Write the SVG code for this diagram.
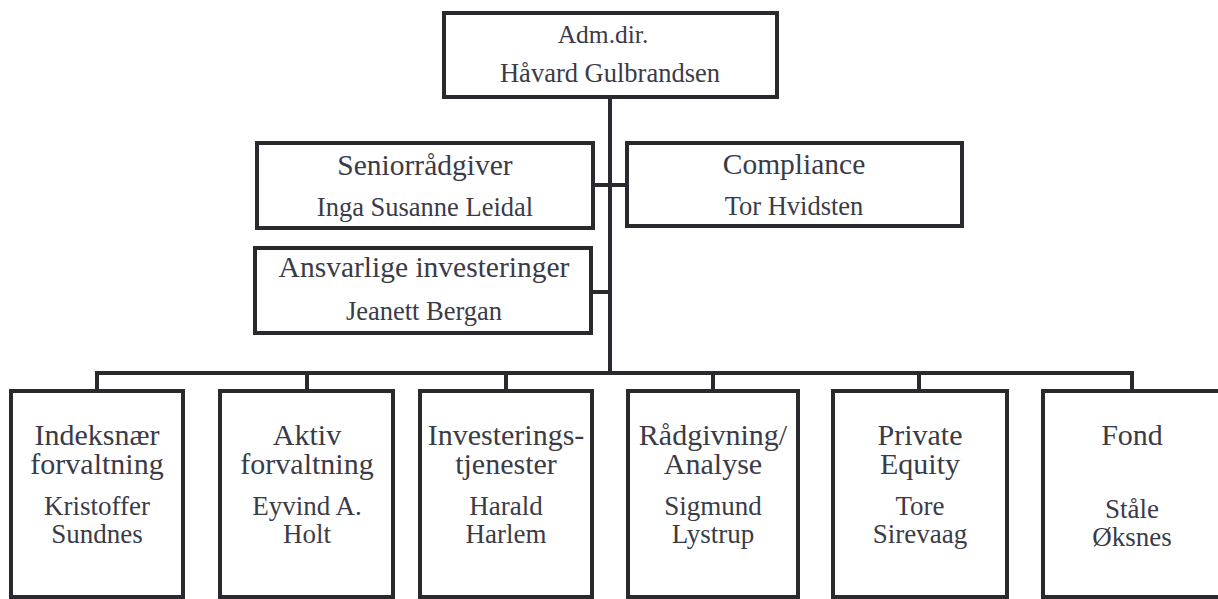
<svg xmlns="http://www.w3.org/2000/svg" width="1218" height="599" viewBox="0 0 1218 599">
<style>
.box{fill:#fff;stroke:#2a2a2e;stroke-width:4}
.ln{fill:none;stroke:#2a2a2e;stroke-width:4;stroke-linecap:square}
text{font-family:"Liberation Serif","Times New Roman",serif;fill:#3b3b48;text-anchor:middle}
.t{font-size:29.5px}
.n{font-size:26.5px}
.bt{font-size:30px}
.bn{font-size:27px}
</style>
<rect width="1218" height="599" fill="#fff"/>
<g id="connectors">
<path class="ln" d="M610 97V373M594 185H627M591 292H610M97 373H1132M97 373V391M307 373V391M506 373V391M713 373V391M919 373V391M1132 373V391"/>
</g>
<g id="adm">
<rect class="box" x="444" y="13" width="333" height="84"/>
<text x="603" y="43" style="font-size:25.5px">Adm.dir.</text>
<text x="610" y="82" class="n">Håvard Gulbrandsen</text>
</g>
<g id="senior">
<rect class="box" x="257" y="143" width="336" height="85"/>
<text x="425" y="175" class="t">Seniorrådgiver</text>
<text x="425" y="216" class="n">Inga Susanne Leidal</text>
</g>
<g id="compliance">
<rect class="box" x="627" y="143" width="335" height="83"/>
<text x="794" y="174" class="t">Compliance</text>
<text x="794" y="215" class="n">Tor Hvidsten</text>
</g>
<g id="ansvarlige">
<rect class="box" x="255" y="248" width="336" height="85"/>
<text x="424" y="277" class="t">Ansvarlige investeringer</text>
<text x="424" y="320" class="n">Jeanett Bergan</text>
</g>
<g id="indeks">
<rect class="box" x="11" y="391" width="172" height="206"/>
<text x="97" y="445" class="bt">Indeksnær</text>
<text x="97" y="474" class="bt">forvaltning</text>
<text x="97" y="515" class="bn">Kristoffer</text>
<text x="97" y="543" class="bn">Sundnes</text>
</g>
<g id="aktiv">
<rect class="box" x="220" y="391" width="173" height="206"/>
<text x="307" y="445" class="bt">Aktiv</text>
<text x="307" y="474" class="bt">forvaltning</text>
<text x="307" y="515" class="bn">Eyvind A.</text>
<text x="307" y="543" class="bn">Holt</text>
</g>
<g id="investering">
<rect class="box" x="420" y="391" width="172" height="206"/>
<text x="506" y="445" class="bt">Investerings-</text>
<text x="506" y="474" class="bt">tjenester</text>
<text x="506" y="515" class="bn">Harald</text>
<text x="506" y="543" class="bn">Harlem</text>
</g>
<g id="radgivning">
<rect class="box" x="628" y="391" width="170" height="206"/>
<text x="713" y="445" class="bt">Rådgivning/</text>
<text x="713" y="474" class="bt">Analyse</text>
<text x="713" y="515" class="bn">Sigmund</text>
<text x="713" y="543" class="bn">Lystrup</text>
</g>
<g id="private">
<rect class="box" x="833" y="391" width="174" height="206"/>
<text x="920" y="445" class="bt">Private</text>
<text x="920" y="474" class="bt">Equity</text>
<text x="920" y="515" class="bn">Tore</text>
<text x="920" y="543" class="bn">Sirevaag</text>
</g>
<g id="fond">
<rect class="box" x="1043" y="391" width="180" height="206"/>
<text x="1132" y="445" class="bt">Fond</text>
<text x="1132" y="518" class="bn">Ståle</text>
<text x="1132" y="546" class="bn">Øksnes</text>
</g>
</svg>
